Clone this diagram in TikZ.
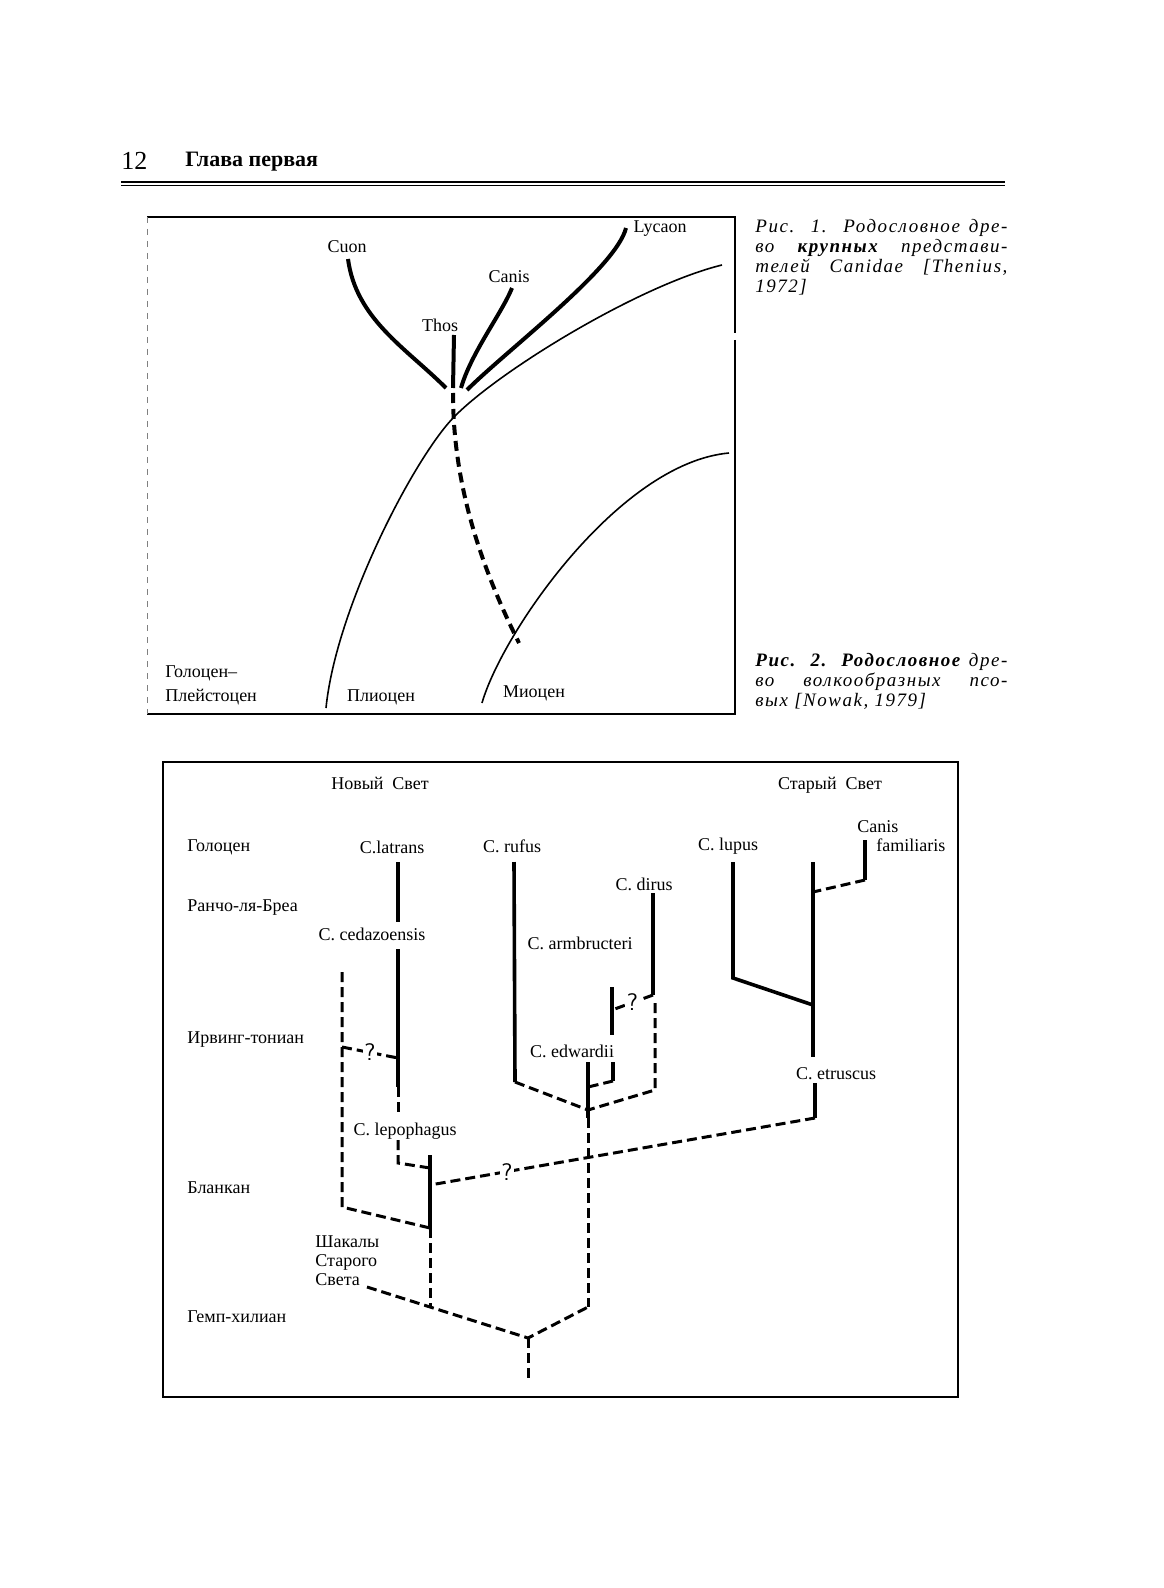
\documentclass[tikz,border=0pt]{standalone}
\usepackage{fontspec}
\setmainfont{Liberation Serif}
\newfontfamily\capfont[LetterSpace=8]{Liberation Serif}
\usetikzlibrary{positioning}

\begin{document}
\begin{tikzpicture}[
    x=0.5pt, y=-0.5pt,
    font=\fontsize{9}{10}\selectfont,
    taxon/.style={inner sep=0pt},
    period/.style={inner sep=0pt, anchor=west},
    captext/.style={
        inner sep=0pt,
        anchor=north west,
        text width=126pt,
        align=justify,
        font=\capfont\itshape\fontsize{9.5}{10}\selectfont
    },
    qmark/.style={inner sep=0.8pt, fill=white, font=\sffamily\fontsize{12}{12}\selectfont},
    thickline/.style={line width=1.8pt},
    dashline/.style={line width=1.5pt, dash pattern=on 5pt off 2.5pt},
    thinline/.style={line width=0.8pt},
    boldcurve/.style={line width=2pt},
    boldstroke/.style={line width=2pt, dash pattern=on 5pt off 3pt},
    frameline/.style={line width=0.7pt}
]

% --- Page ---
\fill[white] (0,0) rectangle (1163,1588);
\useasboundingbox (0,0) rectangle (1163,1588);

\node[anchor=base west, inner sep=0pt, font=\fontsize{13}{13}\selectfont] (pagenum) at (121,170) {12};
\node[anchor=base west, inner sep=0pt, font=\bfseries\fontsize{11}{11}\selectfont] (chapter) at (185,167) {Глава первая};
\draw[line width=1.3pt] (121,182) -- (1005,182);
\draw[line width=0.5pt] (121,186) -- (1005,186);

% --- Fig. 1: frame ---
\draw[frameline] (147,217) -- (735,217) -- (735,333);
\draw[frameline] (735,340) -- (735,714) -- (147,714);
\draw[gray, line width=0.4pt, dash pattern=on 3pt off 3pt] (147,217) -- (147,714);

% --- Fig. 1: labels ---
\node[taxon] (cuon) at (347,247) {Cuon};
\node[taxon] (canis) at (509,277) {Canis};
\node[taxon] (thos) at (440,325) {Thos};
\node[taxon] (lycaon) at (660,229) {Lycaon};
\node[period] (holo) at (165,673) {Голоцен–};
\node[period] (pleist) at (165,697) {Плейстоцен};
\node[taxon] (plio) at (381,697) {Плиоцен};
\node[taxon] (mio) at (534,693) {Миоцен};

% --- Fig. 1: branches ---
\coordinate (cuontip) at (348,259);
\coordinate (cuonbase) at (446,388);
\coordinate (thostip) at (454,335);
\coordinate (thosbase) at (453,388);
\coordinate (canistip) at (512,288);
\coordinate (canisbase) at (461,388);
\coordinate (lycaontip) at (626,228);
\coordinate (lycaonbase) at (467,390);
\coordinate (root1) at (453,393);
\coordinate (dashend) at (519,643);
\coordinate (ctop) at (722,265);
\coordinate (cmid) at (454,417);
\coordinate (cbot) at (326,708);
\coordinate (ltop) at (729,453);
\coordinate (lbot) at (482,703);

\draw[boldcurve] (cuontip) .. controls +(8,60) and +(-40,-40) .. (cuonbase);
\draw[boldcurve] (thostip) -- (thosbase);
\draw[boldcurve] (canistip) .. controls +(-10,25) and +(10,-35) .. (canisbase);
\draw[boldcurve] (lycaontip) .. controls +(-10,40) and +(40,-40) .. (lycaonbase);
\draw[boldstroke] (root1) .. controls +(0,80) and +(-45,-90) .. (dashend);
\draw[thinline] (ctop) .. controls +(-82,20) and +(46,-47) .. (cmid)
    .. controls +(-40,41) and +(10,-100) .. (cbot);
\draw[thinline] (ltop) .. controls +(-110,10) and +(20,-70) .. (lbot);

% --- Captions ---
\node[captext] (cap1) at (755,219) {Рис. 1. Родословное дре-\linebreak
    во \textbf{крупных} представи-\linebreak
    телей Canidae [Thenius,\linebreak
    1972]};
\node[captext] (cap2) at (755,653) {\textbf{Рис. 2. Родословное} дре-\linebreak
    во волкообразных псо-\linebreak
    вых [Nowak, 1979]};

% --- Fig. 2: frame ---
\draw[frameline] (163,762) rectangle (958,1397);

% --- Fig. 2: headings and periods ---
\node[taxon, anchor=base] (newworld) at (380,789) {Новый\ \ Свет};
\node[taxon, anchor=base] (oldworld) at (830,789) {Старый\ \ Свет};
\node[period] (holocene) at (187,847) {Голоцен};
\node[period] (rancho) at (187,908) {Ранчо-ля-Бреа};
\node[period] (irving) at (187,1040) {Ирвинг-тониан};
\node[period] (blancan) at (187,1188) {Бланкан};
\node[period] (hemphill) at (187,1317) {Гемп-хилиан};

% --- Fig. 2: taxa ---
\node[taxon] (latrans) at (392,847) {C.latrans};
\node[taxon] (rufus) at (512,846) {C. rufus};
\node[taxon] (lupus) at (728,846) {C. lupus};
\node[taxon, anchor=west] (canisf) at (857,827) {Canis};
\node[taxon, anchor=west] (famil) at (876,845) {familiaris};
\node[taxon] (dirus) at (644,884) {C. dirus};
\node[taxon] (cedaz) at (372,934) {C. cedazoensis};
\node[taxon] (armb) at (580,943) {C. armbructeri};
\node[taxon] (edw) at (572,1051) {C. edwardii};
\node[taxon] (etrus) at (836,1074) {C. etruscus};
\node[taxon] (lepo) at (405,1131) {C. lepophagus};
\node[period, align=left, font=\fontsize{9}{9.5}\selectfont] (jackals) at (315,1261) {Шакалы\\Старого\\Света};

% --- Fig. 2: New World points ---
\coordinate (lat1) at (398,862);
\coordinate (lat2) at (398,922);
\coordinate (ced1) at (398,949);
\coordinate (cedq) at (398,1058);
\coordinate (ced2) at (398,1087);
\coordinate (lepo1) at (398,1115);
\coordinate (lepo2) at (398,1140);
\coordinate (lepo3) at (398,1163);
\coordinate (blanj) at (430,1168);
\coordinate (blan1) at (430,1155);
\coordinate (blanq) at (430,1185);
\coordinate (blan2) at (430,1228);
\coordinate (side1) at (342,972);
\coordinate (sideq) at (342,1047);
\coordinate (side2) at (342,1207);
\coordinate (hemp1) at (430,1307);
\coordinate (jackend) at (367,1287);
\coordinate (root2) at (528,1338);
\coordinate (root3) at (528,1382);
\coordinate (edw0) at (588,1307);
\coordinate (ruf1) at (514,862);
\coordinate (ruf2) at (515,1082);
\coordinate (edw1) at (588,1062);
\coordinate (edwk) at (588,1087);
\coordinate (edwj) at (588,1110);
\coordinate (edw2) at (588,1118);
\coordinate (arm1) at (612,987);
\coordinate (armq) at (612,1010);
\coordinate (arm2) at (612,1035);
\coordinate (arm3) at (613,1062);
\coordinate (arm4) at (613,1081);
\coordinate (dir1) at (653,893);
\coordinate (dir2) at (653,995);
\coordinate (dir3) at (655,1003);
\coordinate (dir4) at (655,1090);

% --- Fig. 2: Old World points ---
\coordinate (lup1) at (733,862);
\coordinate (lup2) at (733,978);
\coordinate (etr1) at (813,862);
\coordinate (etrj) at (813,1005);
\coordinate (etr2) at (813,1057);
\coordinate (famj) at (813,892);
\coordinate (fam1) at (865,840);
\coordinate (fam2) at (865,880);
\coordinate (etr3) at (815,1083);
\coordinate (etr4) at (815,1118);

% --- Fig. 2: New World lines ---
\draw[thickline] (lat1) -- (lat2);
\draw[thickline] (ced1) -- (ced2);
\draw[dashline] (sideq) -- node[qmark] (q1) {?} (cedq);
\draw[dashline] (ced2) -- (lepo1);
\draw[dashline] (lepo2) -- (lepo3) -- (blanj);
\draw[thickline] (blan1) -- (blan2);
\draw[dashline] (side1) -- (side2) -- (blan2);
\draw[dashline] (blan2) -- (hemp1);
\draw[dashline] (jackend) -- (root2) -- (edw0);
\draw[dashline] (root2) -- (root3);

\draw[thickline] (ruf1) -- (ruf2);
\draw[dashline] (ruf2) -- (edwj);
\draw[thickline] (edw1) -- (edw2);
\draw[dashline] (edw2) -- (edw0);
\draw[thickline] (arm3) -- (arm4);
\draw[dashline] (arm4) -- (edwk);
\draw[thickline] (arm1) -- (arm2);
\draw[thickline] (dir1) -- (dir2);
\draw[dashline] (dir2) -- node[qmark] (q2) {?} (armq);
\draw[dashline] (dir3) -- (dir4) -- (edwj);

% --- Fig. 2: Old World lines ---
\draw[thickline] (lup1) -- (lup2) -- (etrj);
\draw[thickline] (etr1) -- (etr2);
\draw[thickline] (fam1) -- (fam2);
\draw[dashline] (fam2) -- (famj);
\draw[thickline] (etr3) -- (etr4);
\draw[dashline] (etr4) -- node[qmark, pos=0.8] (q3) {?} (blanq);

\end{tikzpicture}
\end{document}
